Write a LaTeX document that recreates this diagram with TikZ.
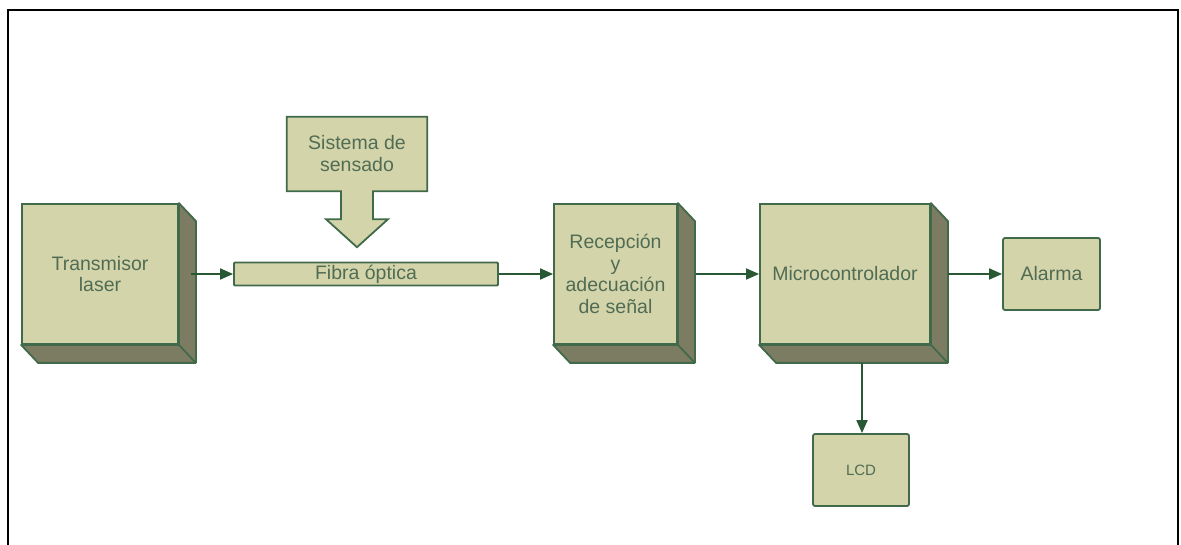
\documentclass[tikz,border=0pt]{standalone}
\usepackage{fontspec}
\setmainfont{Liberation Sans}
\usetikzlibrary{arrows.meta,calc}
\definecolor{facecol}{RGB}{212,212,170}
\definecolor{sidecol}{RGB}{124,124,98}
\definecolor{edgecol}{RGB}{64,106,74}
\definecolor{txtcol}{RGB}{80,108,84}
\definecolor{arrcol}{RGB}{40,88,52}
\tikzset{
  blockbox/.style={draw=edgecol, fill=facecol, line width=1.8pt, text=txtcol,
    align=center, inner sep=2pt, font=\fontsize{19.5}{21.5}\selectfont},
  sidefill/.style={fill=sidecol, draw=edgecol, line width=1.8pt, line join=round},
  flow/.style={draw=arrcol, line width=1.8pt, -{Triangle[length=13pt,width=11pt]}},
  frameline/.style={draw=black, line width=2pt}
}
\newcommand{\extrude}[1]{%
  \filldraw[sidefill] (#1.north east) -- ++(17,18) -- ($(#1.south east)+(17,18)$)
    -- ($(#1.south west)+(17,18)$) -- (#1.south west) -- (#1.south east) -- cycle;
  \draw[edgecol, line width=1.8pt] (#1.south east) -- ++(17,18);
}
\begin{document}
\begin{tikzpicture}[x=1pt,y=-1pt]
\useasboundingbox (0,0) rectangle (1181,545);
\draw[frameline] (8,545) -- (8,10) -- (1178,10) -- (1178,545);

% 3D blocks
\node[blockbox, minimum width=156pt, minimum height=140pt] (tx) at (100,274) {Transmisor\\laser};
\extrude{tx}
\node[blockbox, minimum width=123pt, minimum height=140pt] (rx) at (615.5,274) {Recepción\\y\\adecuación\\de señal};
\extrude{rx}
\node[blockbox, minimum width=170pt, minimum height=140pt] (mc) at (845,274) {Microcontrolador};
\extrude{mc}

% flat blocks
\node[blockbox, minimum width=97pt, minimum height=72pt, rounded corners=2pt] (al) at (1051.5,274) {Alarma};
\node[blockbox, minimum width=96pt, minimum height=72pt, rounded corners=2pt,
      font=\fontsize{15}{17}\selectfont] (lcd) at (861,470) {LCD};
\node[blockbox, minimum width=264pt, minimum height=23pt, inner sep=0pt, rounded corners=1pt] (fo) at (366,274) {Fibra óptica};

% sensing system (box with arrow)
\node[minimum width=140pt, minimum height=74pt, inner sep=0pt] (sens) at (357,154) {};
\filldraw[draw=edgecol, fill=facecol, line width=1.8pt, line join=miter]
  (sens.north west) -- (sens.north east) -- (sens.south east)
  -- ($(sens.south)+(16,0)$) -- ($(sens.south)+(16,28)$) -- ($(sens.south)+(31,28)$)
  -- ($(sens.south)+(0,56)$) -- ($(sens.south)+(-31,28)$) -- ($(sens.south)+(-16,28)$)
  -- ($(sens.south)+(-16,0)$) -- (sens.south west) -- cycle;
\node[text=txtcol, align=center, font=\fontsize{19.5}{22}\selectfont] (senslbl) at (sens.center) {Sistema de\\sensado};

% connectors
\draw[flow] ($(tx.east)+(12,0)$) -- (fo.west);
\draw[flow] (fo.east) -- (rx.west);
\draw[flow] ($(rx.east)+(18,0)$) -- (mc.west);
\draw[flow] ($(mc.east)+(17,0)$) -- (al.west);
\draw[flow] ($(mc.south)+(17,18)$) -- (lcd.north -| {$(mc.south)+(17,18)$});
\end{tikzpicture}
\end{document}
